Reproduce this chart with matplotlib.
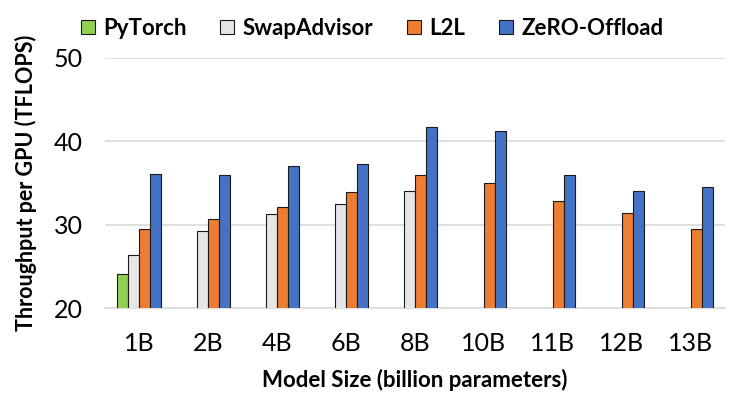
#!/usr/bin/env python3
import numpy as np
import matplotlib.pyplot as plt

# data
sizes = ['1B', '2B', '4B', '6B', '8B', '10B', '11B', '12B', '13B']
pytorch = [24.1, np.nan, np.nan, np.nan, np.nan, np.nan, np.nan, np.nan, np.nan]
swapadvisor = [26.4, 29.2, 31.3, 32.5, 34.1, np.nan, np.nan, np.nan, np.nan]
l2l = [29.5, 30.7, 32.1, 33.9, 35.9, 35.0, 32.8, 31.4, 29.5]
zero_offload = [36.1, 35.9, 37.0, 37.3, 41.7, 41.2, 35.9, 34.0, 34.5]

series = [('PyTorch', pytorch, '#92D050'),
          ('SwapAdvisor', swapadvisor, '#E7E6E6'),
          ('L2L', l2l, '#ED7D31'),
          ('ZeRO-Offload', zero_offload, '#4472C4')]

plt.rcParams['font.family'] = ['Lato', 'DejaVu Sans']

fig = plt.figure(figsize=(7.37, 3.97), dpi=100)
ax = fig.add_axes([105 / 737, 1 - 308.3 / 397, 620 / 737, 250.6 / 397])

x = np.arange(len(sizes))
w = 0.16
for i, (name, vals, color) in enumerate(series):
    ax.bar(x + (i - 1.5) * w, vals, width=w, color=color,
           edgecolor='#1a1a1a', linewidth=0.8, label=name, zorder=3)

# axes
ax.set_xlim(-0.5, len(sizes) - 0.5)
ax.set_ylim(20, 50)
ax.set_yticks([20, 30, 40, 50])
ax.set_xticks(x, sizes)
ax.tick_params(length=0, labelsize=18)
ax.tick_params(axis='x', pad=17)
ax.tick_params(axis='y', pad=16)
ax.grid(axis='y', color='#D9D9D9', linewidth=1.2, zorder=0)
for side in ['top', 'right', 'left']:
    ax.spines[side].set_visible(False)
ax.spines['bottom'].set_color('#D9D9D9')
ax.spines['bottom'].set_linewidth(1.2)

# labels
ax.set_xlabel('Model Size (billion parameters)', fontsize=16,
              fontweight='bold')
ax.xaxis.set_label_coords(0.5, -0.242)
ax.set_ylabel('Throughput per GPU (TFLOPS)', fontsize=15.5,
              fontweight='bold')
ax.yaxis.set_label_coords(-0.11, 0.5)

# legend
fig.legend(loc='center', bbox_to_anchor=(0.505, 0.929), ncol=4,
           frameon=False, prop={'weight': 'bold', 'size': 16},
           handlelength=0.62, handleheight=0.62, handletextpad=0.4,
           columnspacing=1.5, borderaxespad=0)

plt.savefig("out.png")
